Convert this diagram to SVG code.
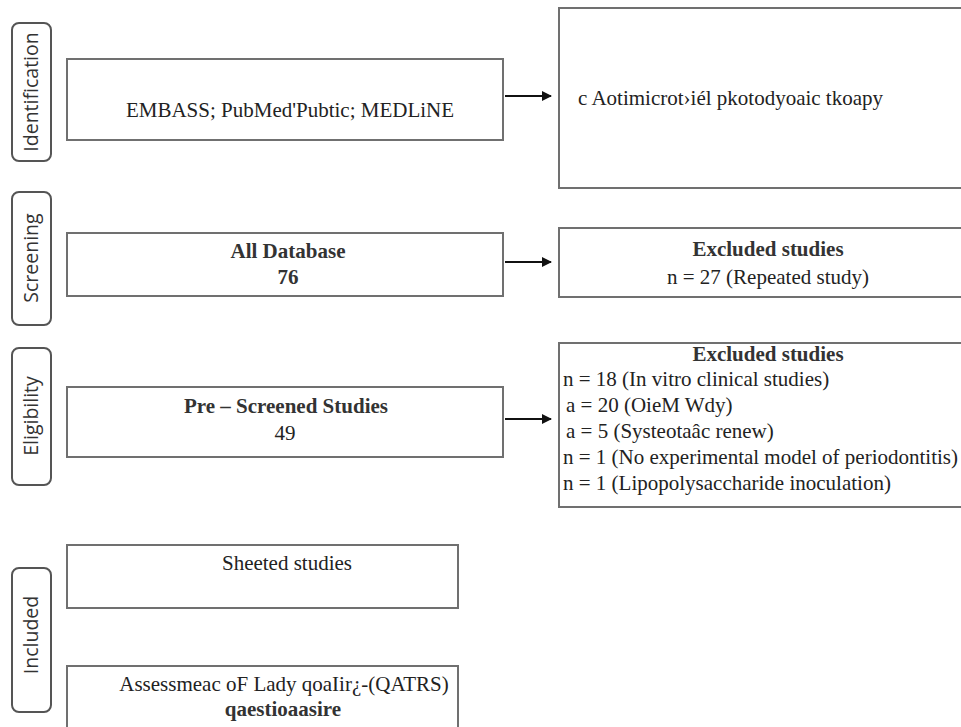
<svg xmlns="http://www.w3.org/2000/svg" width="961" height="727" viewBox="0 0 961 727">
<defs>
<marker id="ah" viewBox="0 0 10 10" refX="9" refY="5" markerWidth="5" markerHeight="5" orient="auto" markerUnits="strokeWidth">
<path d="M0,0 L10,5 L0,10 z" fill="#111"/>
</marker>
</defs>
<style>
.lab{fill:#fff;stroke:#555;stroke-width:2}
.labt{font-family:"Open Sans","Noto Sans",sans-serif;font-size:19.5px;fill:#333;text-anchor:middle}
.box{fill:#fff;stroke:#707070;stroke-width:2}
.t{font-family:"Liberation Serif","Times New Roman",serif;font-size:21px;fill:#222}
.tb{font-family:"Liberation Serif","Times New Roman",serif;font-size:21px;font-weight:bold;fill:#333}
.c{text-anchor:middle}
.con{stroke:#111;stroke-width:2;fill:none;marker-end:url(#ah)}
</style>
<rect width="961" height="727" fill="#fff"/>
<g id="label-identification">
<rect class="lab" x="12" y="23" width="39" height="138" rx="7"/>
<text class="labt" transform="translate(38,92) rotate(-90)">Identification</text>
</g>
<g id="label-screening">
<rect class="lab" x="12" y="192" width="39" height="133" rx="7"/>
<text class="labt" transform="translate(38,258) rotate(-90)">Screening</text>
</g>
<g id="label-eligibility">
<rect class="lab" x="12" y="348" width="39" height="137" rx="7"/>
<text class="labt" transform="translate(38,416) rotate(-90)">Eligibility</text>
</g>
<g id="label-included">
<rect class="lab" x="12" y="568" width="39" height="144" rx="7"/>
<text class="labt" transform="translate(38,635) rotate(-90)">Included</text>
</g>
<g id="n-databases">
<rect class="box" x="67" y="59" width="436" height="81"/>
<text class="t c" x="290" y="117">EMBASS; PubMed'Pubtic; MEDLiNE</text>
</g>
<g id="n-topic">
<rect class="box" x="559" y="8" width="410" height="180"/>
<text class="t" x="578" y="105">c Aotimicrot›iél pkotodyoaic tkoapy</text>
</g>
<g id="n-all">
<rect class="box" x="67" y="233" width="436" height="63"/>
<text class="tb c" x="288" y="258">All Database</text>
<text class="tb c" x="288" y="284">76</text>
</g>
<g id="n-excl1">
<rect class="box" x="559" y="228" width="410" height="69"/>
<text class="tb c" x="768" y="256">Excluded studies</text>
<text class="t c" x="768" y="284">n = 27 (Repeated study)</text>
</g>
<g id="n-prescreen">
<rect class="box" x="67" y="387" width="436" height="70"/>
<text class="tb c" x="286" y="413">Pre – Screened Studies</text>
<text class="t c" x="285" y="440">49</text>
</g>
<g id="n-excl2">
<rect class="box" x="559" y="343" width="410" height="164"/>
<text class="tb c" x="768" y="361">Excluded studies</text>
<text class="t" x="563" y="386">n = 18 (In vitro clinical studies)</text>
<text class="t" x="566" y="412">a = 20 (OieM Wdy)</text>
<text class="t" x="566" y="438">a = 5 (Systeotaâc renew)</text>
<text class="t" x="563" y="464">n = 1 (No experimental model of periodontitis)</text>
<text class="t" x="563" y="490">n = 1 (Lipopolysaccharide inoculation)</text>
</g>
<g id="n-selected">
<rect class="box" x="67" y="545" width="391" height="63"/>
<text class="t c" x="287" y="570">Sheeted studies</text>
</g>
<g id="n-assessment">
<rect class="box" x="67" y="666" width="391" height="70"/>
<text class="t c" x="284" y="691">Assessmeac oF Lady qoaIir¿-(QATRS)</text>
<text class="tb c" x="283" y="716">qaestioaasire</text>
</g>
<g id="connectors">
<line class="con" x1="505" y1="96" x2="551" y2="96"/>
<line class="con" x1="505" y1="262" x2="551" y2="262"/>
<line class="con" x1="505" y1="419" x2="551" y2="419"/>
</g>
</svg>
